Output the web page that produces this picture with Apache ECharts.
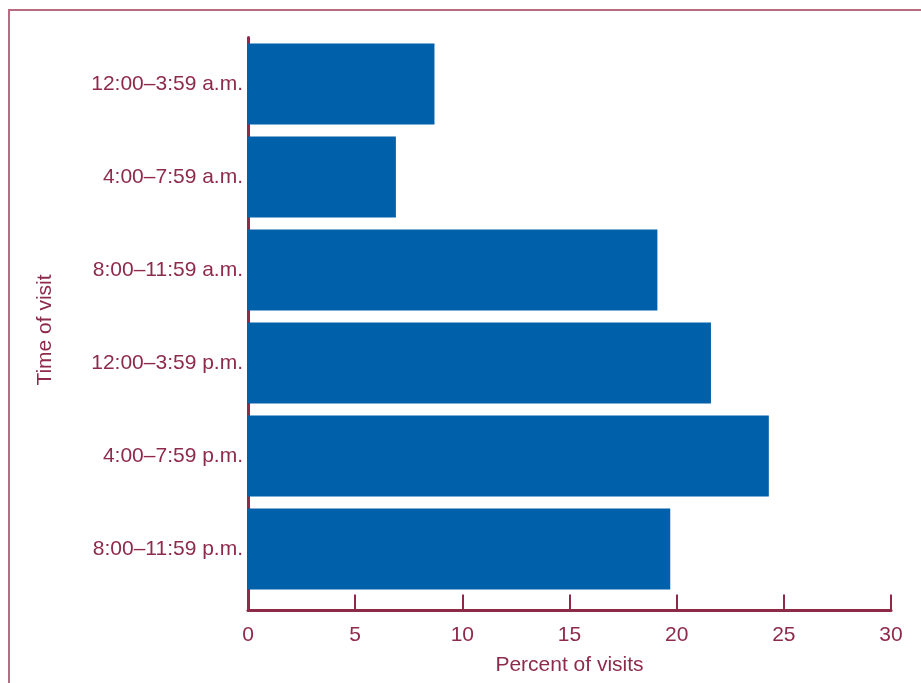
<!DOCTYPE html>
<html>
<head>
<meta charset="utf-8">
<script src="https://cdn.jsdelivr.net/npm/echarts@6/dist/echarts.min.js"></script>
<style>
  html, body { margin: 0; padding: 0; background: #ffffff; }
  #frame { position: absolute; left: 8px; top: 9px; width: 1000px; height: 1000px; border: 2px solid #b86c82; box-sizing: border-box; }
  #chart { position: absolute; left: 0; top: 0; width: 921px; height: 683px; }
</style>
</head>
<body>
<div id="frame"></div>
<div id="chart"></div>
<script>
const categories = ['12:00\u20133:59 a.m.', '4:00\u20137:59 a.m.', '8:00\u201311:59 a.m.', '12:00\u20133:59 p.m.', '4:00\u20137:59 p.m.', '8:00\u201311:59 p.m.'];
const percentVisits = [8.7, 6.9, 19.1, 21.6, 24.3, 19.7];
const xTicks = { min: 0, max: 30, interval: 5 };
const xTitle = 'Percent of visits';
const yTitle = 'Time of visit';

const maroon = '#8c2a48';
const textColor = '#8e2b4b';
const barColor = '#0060a9';
const fontFamily = "'Liberation Sans', Arial, Helvetica, sans-serif";

const chart = echarts.init(document.getElementById('chart'), null, { renderer: 'canvas' });
chart.setOption({
  backgroundColor: 'transparent',
  animation: false,
  grid: [
    { left: 248, right: 30, top: 37.5, height: 558, containLabel: false },
    { left: 248, right: 30, top: 37.5, height: 573, containLabel: false }
  ],
  xAxis: [
    { gridIndex: 0, type: 'value', min: xTicks.min, max: xTicks.max, interval: xTicks.interval, show: false },
    {
      gridIndex: 1, type: 'value', min: xTicks.min, max: xTicks.max, interval: xTicks.interval,
      axisLine: { show: true, onZero: false, lineStyle: { color: maroon, width: 3 } },
      axisTick: { show: true, inside: true, length: 16, lineStyle: { color: maroon, width: 2 } },
      axisLabel: { color: textColor, fontSize: 21, fontFamily: fontFamily, margin: 14 },
      splitLine: { show: false },
      name: xTitle, nameLocation: 'middle', nameGap: 44,
      nameTextStyle: { color: textColor, fontSize: 21, fontFamily: fontFamily }
    }
  ],
  yAxis: [
    {
      gridIndex: 0, type: 'category', data: categories, inverse: true,
      axisLine: { show: false }, axisTick: { show: false },
      axisLabel: { color: textColor, fontSize: 21, fontFamily: fontFamily, margin: 5 },
      splitLine: { show: false }
    },
    {
      gridIndex: 1, type: 'value', min: 0, max: 1,
      axisLine: { show: true, onZero: false, lineStyle: { color: maroon, width: 3 } },
      axisTick: { show: false }, axisLabel: { show: false }, splitLine: { show: false },
      name: yTitle, nameLocation: 'middle', nameGap: 192, nameRotate: 90,
      nameTextStyle: { color: textColor, fontSize: 21, fontFamily: fontFamily, padding: [0, 12, 0, 0] }
    }
  ],
  series: [
    {
      type: 'bar', xAxisIndex: 0, yAxisIndex: 0,
      data: percentVisits,
      barCategoryGap: '13%',
      itemStyle: { color: barColor },
      silent: true
    }
  ]
});
</script>
</body>
</html>
